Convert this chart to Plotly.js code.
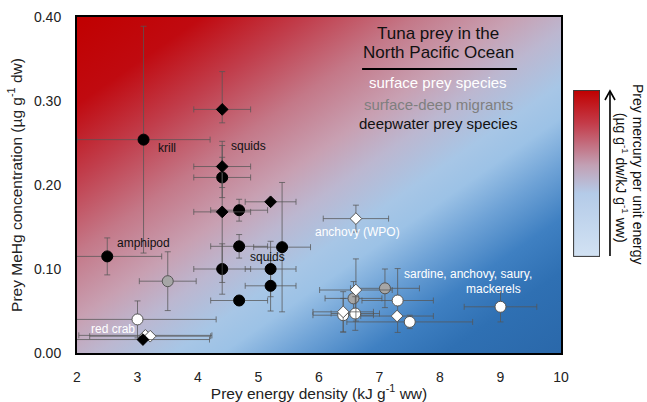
<!DOCTYPE html>
<html>
<head>
<meta charset="utf-8">
<script src="https://cdn.plot.ly/plotly-3.0.1.min.js"></script>
<style>html,body{margin:0;padding:0;background:#fff;}#chart{width:647px;height:402px;}</style>
</head>
<body>
<div id="chart"></div>
<script>
// ---- Data ----
// Deepwater prey species (black)
const deepCircX    = [3.1, 2.5, 4.4, 4.68, 4.68, 5.39, 4.4, 5.2, 5.2, 4.68];
const deepCircY    = [0.254, 0.115, 0.209, 0.17, 0.127, 0.126, 0.10, 0.10, 0.08, 0.0625];
const deepCircXErr = [1.1, 0.9, 0.47, 0.47, 0.47, 0.47, 0.47, 0.42, 0.42, 0.47];
const deepCircYErr = [0.135, 0.022, 0.024, 0.013, 0.014, 0.077, 0.03, 0.033, 0.03, 0];

const deepDiaX     = [4.4, 4.4, 4.4, 5.2, 3.09];
const deepDiaY     = [0.29, 0.222, 0.168, 0.18, 0.016];
const deepDiaXErr  = [0.47, 0.47, 0.47, 0.42, 1.1];
const deepDiaYErrP = [0.045, 0.025, 0.084, 0, 0];
const deepDiaYErrM = [0.016, 0.025, 0.084, 0, 0];

// Surface-deep migrants (grey)
const migX    = [3.5, 6.57, 7.09];
const migY    = [0.0855, 0.065, 0.077];
const migXErr = [0.47, 0.47, 0.57];
const migYErr = [0.035, 0.02, 0.023];

// Surface prey species (white)
const surfCircX    = [3.0, 6.4, 6.6, 7.3, 7.5, 9.0];
const surfCircY    = [0.04, 0.045, 0.047, 0.0625, 0.037, 0.055];
const surfCircXErr = [1.3, 0.5, 0.4, 0.59, 1.04, 0.6];
const surfCircYErr = [0.022, 0.02, 0.02, 0.038, 0.008, 0.018];

const surfDiaX    = [3.13, 3.21, 6.61, 6.61, 6.4, 7.29];
const surfDiaY    = [0.021, 0.02, 0.16, 0.075, 0.049, 0.044];
const surfDiaXErr = [1.1, 1.0, 0.54, 0.6, 0.5, 0.6];
const surfDiaYErr = [0, 0, 0.016, 0.037, 0.024, 0];

const xTicks = [2, 3, 4, 5, 6, 7, 8, 9, 10];
const yTicks = [0, 0.1, 0.2, 0.3, 0.4];

// ---- Styling ----
const FONT = 'Liberation Sans, Arial, sans-serif';
const ERRC = 'rgba(85,85,85,0.75)';

function errX(arr){ return {type:'data', array:arr, visible:true, color:ERRC, thickness:1, width:3}; }
function errY(arr, minus){
  const e = {type:'data', array:arr, visible:true, color:ERRC, thickness:1, width:3};
  if (minus) { e.symmetric = false; e.arrayminus = minus; }
  return e;
}

const traces = [
  {x: migX, y: migY, mode:'markers', type:'scatter', name:'surface-deep migrants',
   error_x: errX(migXErr), error_y: errY(migYErr),
   marker:{symbol:'circle', size:11, color:'#a6a6a6', line:{color:'#555555', width:1}}},
  {x: surfCircX, y: surfCircY, mode:'markers', type:'scatter', name:'surface (circles)',
   error_x: errX(surfCircXErr), error_y: errY(surfCircYErr),
   marker:{symbol:'circle', size:11, color:'#ffffff', line:{color:'#555555', width:1}}},
  {x: surfDiaX, y: surfDiaY, mode:'markers', type:'scatter', name:'surface (diamonds)',
   error_x: errX(surfDiaXErr), error_y: errY(surfDiaYErr),
   marker:{symbol:'diamond', size:9, color:'#ffffff', line:{color:'#555555', width:1}}},
  {x: deepCircX, y: deepCircY, mode:'markers', type:'scatter', name:'deepwater (circles)',
   error_x: errX(deepCircXErr), error_y: errY(deepCircYErr),
   marker:{symbol:'circle', size:11, color:'#000000', line:{color:'#000000', width:1}}},
  {x: deepDiaX, y: deepDiaY, mode:'markers', type:'scatter', name:'deepwater (diamonds)',
   error_x: errX(deepDiaXErr), error_y: errY(deepDiaYErrP, deepDiaYErrM),
   marker:{symbol:'diamond', size:9, color:'#000000', line:{color:'#000000', width:1}}}
];

// Background gradient (decoration), diagonal corner to corner
const bgSvg = "<svg xmlns='http://www.w3.org/2000/svg' width='484' height='336' viewBox='0 0 484 336' preserveAspectRatio='none'>" +
  "<defs><linearGradient id='g' x1='0' y1='0' x2='1' y2='1'>" +
  "<stop offset='0' stop-color='#c00000'/>" +
  "<stop offset='0.13' stop-color='#c00a10'/>" +
  "<stop offset='0.24' stop-color='#c13e4c'/>" +
  "<stop offset='0.35' stop-color='#c47888'/>" +
  "<stop offset='0.45' stop-color='#c8a0b2'/>" +
  "<stop offset='0.52' stop-color='#bcb7d0'/>" +
  "<stop offset='0.60' stop-color='#a7c6e6'/>" +
  "<stop offset='0.65' stop-color='#9cc2e6'/>" +
  "<stop offset='0.72' stop-color='#6ea2d6'/>" +
  "<stop offset='0.80' stop-color='#3f80c2'/>" +
  "<stop offset='0.88' stop-color='#2f70b3'/>" +
  "<stop offset='1' stop-color='#2a68aa'/>" +
  "</linearGradient></defs><rect x='0' y='0' width='484' height='336' fill='url(#g)'/></svg>";

const cbSvg = "<svg xmlns='http://www.w3.org/2000/svg' width='27' height='167' viewBox='0 0 27 167' preserveAspectRatio='none'>" +
  "<defs><linearGradient id='c' x1='0' y1='0' x2='0' y2='1'>" +
  "<stop offset='0' stop-color='#c00000'/>" +
  "<stop offset='0.2' stop-color='#c43c4a'/>" +
  "<stop offset='0.45' stop-color='#c2a0b4'/>" +
  "<stop offset='0.62' stop-color='#b4cbe8'/>" +
  "<stop offset='1' stop-color='#d2e2f3'/>" +
  "</linearGradient></defs><rect x='0.5' y='0.5' width='26' height='166' fill='url(#c)' stroke='#333' stroke-width='1'/></svg>";

function uri(s){ return 'data:image/svg+xml;charset=utf-8,' + encodeURIComponent(s); }

function lbl(text, x, y, color){
  return {text:text, x:x, y:y, xref:'x', yref:'y', showarrow:false,
          font:{family:FONT, size:12, color:color}};
}
function leg(text, y, color, size){
  return {text:text, x:0.746, y:y, xref:'paper', yref:'paper', showarrow:false,
          xanchor:'center', yanchor:'middle', font:{family:FONT, size:size, color:color}};
}

const layout = {
  width: 647, height: 402,
  margin: {l:77, r:86, t:17, b:49, pad:0},
  paper_bgcolor: '#ffffff',
  plot_bgcolor: 'rgba(0,0,0,0)',
  showlegend: false,
  font: {family: FONT, size: 14, color:'#222'},
  xaxis: {
    range: [2, 10], tickvals: xTicks, ticktext: xTicks.map(String),
    showgrid:false, zeroline:false, showline:true, mirror:true, linecolor:'#000', linewidth:2,
    ticks:'outside', ticklen:10, tickcolor:'rgba(0,0,0,0)',
    tickfont:{family:FONT, size:14, color:'#222'},
    title:{text:'Prey energy density (kJ g<sup>-1</sup> ww)', standoff:6,
           font:{family:FONT, size:15.5, color:'#222'}}
  },
  yaxis: {
    range: [0, 0.40], tickvals: yTicks, tickformat: '.2f',
    showgrid:false, zeroline:false, showline:true, mirror:true, linecolor:'#000', linewidth:2,
    ticks:'outside', ticklen:11, tickcolor:'rgba(0,0,0,0)',
    tickfont:{family:FONT, size:14, color:'#222'},
    title:{text:'Prey MeHg concentration (µg g<sup>-1</sup> dw)', standoff:8,
           font:{family:FONT, size:15.5, color:'#222'}}
  },
  images: [
    {source: uri(bgSvg), xref:'paper', yref:'paper', x:0, y:1, sizex:1, sizey:1,
     xanchor:'left', yanchor:'top', sizing:'stretch', layer:'below'},
    {source: uri(cbSvg), xref:'paper', yref:'paper', x:1.025, y:0.783, sizex:0.0558, sizey:0.497,
     xanchor:'left', yanchor:'top', sizing:'stretch', layer:'above'}
  ],
  shapes: [
    {type:'line', xref:'paper', yref:'paper', x0:0.589, x1:0.909, y0:0.845, y1:0.845,
     line:{color:'#000', width:2}},
    // colour-scale arrow
    {type:'line', xref:'paper', yref:'paper', x0:1.1012, x1:1.1012, y0:0.2887, y1:0.777,
     line:{color:'#000', width:1.6}},
    {type:'path', xref:'paper', yref:'paper', path:'M 1.0909 0.753 L 1.1012 0.7798 L 1.1116 0.753',
     line:{color:'#000', width:1.6}}
  ],
  annotations: [
    lbl('krill', 3.49, 0.2435, '#111'),
    lbl('squids', 4.83, 0.247, '#111'),
    lbl('squids', 5.15, 0.1145, '#111'),
    lbl('amphipod', 3.10, 0.131, '#111'),
    lbl('red crab', 2.60, 0.0288, '#ffffff'),
    lbl('anchovy (WPO)', 6.64, 0.1443, '#ffffff'),
    lbl('sardine, anchovy, saury,', 8.47, 0.0935, '#ffffff'),
    lbl('mackerels', 8.88, 0.0765, '#ffffff'),
    leg('Tuna prey in the', 0.952, '#111', 17),
    leg('North Pacific Ocean', 0.893, '#111', 17),
    leg('surface prey species', 0.804, '#ffffff', 15),
    leg('surface-deep migrants', 0.741, '#7f7f7f', 15),
    leg('deepwater prey species', 0.682, '#111', 15),
    {text:'Prey mercury per unit energy',
     x:1.159, y:0.53, xref:'paper', yref:'paper', showarrow:false, textangle:90,
     xanchor:'center', yanchor:'middle', font:{family:FONT, size:14, color:'#111'}},
    {text:'(µg g<sup>-1</sup> dw/kJ g<sup>-1</sup> ww)',
     x:1.125, y:0.523, xref:'paper', yref:'paper', showarrow:false, textangle:90,
     xanchor:'center', yanchor:'middle', font:{family:FONT, size:14, color:'#111'}}
  ]
};

Plotly.newPlot('chart', traces, layout, {staticPlot:true, displayModeBar:false});
</script>
</body>
</html>
